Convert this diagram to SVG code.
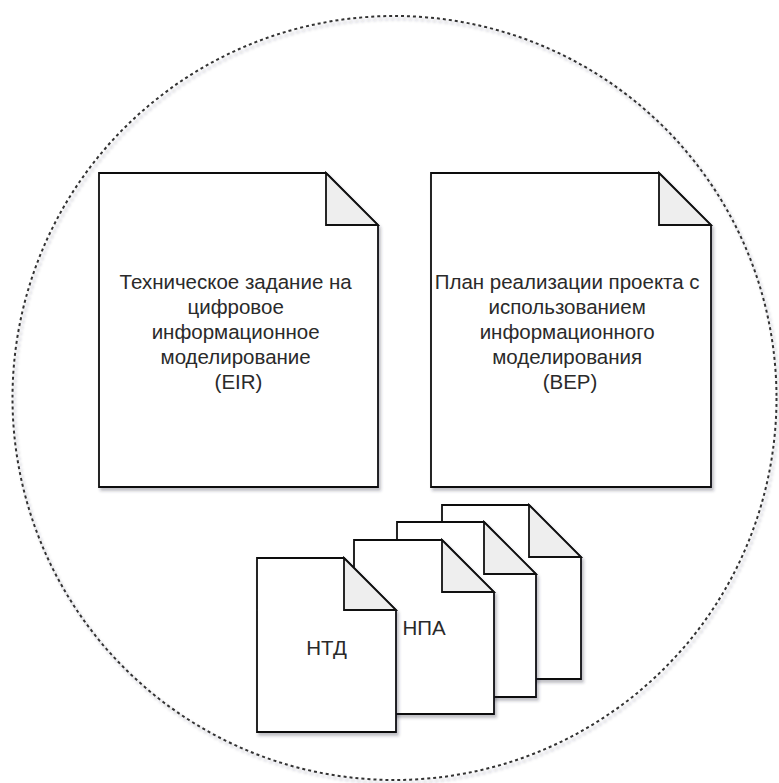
<svg xmlns="http://www.w3.org/2000/svg" width="779" height="783" viewBox="0 0 779 783">
  <style>
    .doc { fill: #ffffff; stroke: #111111; stroke-width: 1.8; stroke-linejoin: miter; }
    .fold { fill: #eeeeee; stroke: #111111; stroke-width: 1.8; }
    .lbl { font-family: "Liberation Sans", Arial, sans-serif; font-size: 20.5px; fill: #2a2a2a; text-anchor: middle; dominant-baseline: central; }
    .boundary { fill: none; stroke: #333333; stroke-width: 2; stroke-dasharray: 3 3; }
  </style>
  <defs>
    <filter id="shadow" x="-10%" y="-10%" width="130%" height="130%">
      <feDropShadow dx="2" dy="3" stdDeviation="1.8" flood-color="#303040" flood-opacity="0.3"/>
    </filter>
  </defs>
  <rect width="779" height="783" fill="#ffffff"/>

  <g id="boundary">
    <circle class="boundary" cx="394.5" cy="398" r="382" filter="url(#shadow)"/>
  </g>

  <g id="eir">
    <path class="doc" filter="url(#shadow)" d="M99,173 H326 L378,225 V487 H99 Z"/>
    <path class="fold" d="M326,173 V225 H378 Z"/>
    <text class="lbl" x="238.5">
      <tspan x="238.5" y="281">Техническое задание на</tspan>
      <tspan x="238.5" y="306">цифровое</tspan>
      <tspan x="238.5" y="331">информационное</tspan>
      <tspan x="238.5" y="356">моделирование</tspan>
      <tspan x="238.5" y="381">(EIR)</tspan>
    </text>
  </g>

  <g id="bep">
    <path class="doc" filter="url(#shadow)" d="M431,173 H659 L711,225 V487 H431 Z"/>
    <path class="fold" d="M659,173 V225 H711 Z"/>
    <text class="lbl" x="570">
      <tspan x="570" y="281">План реализации проекта с</tspan>
      <tspan x="570" y="306">использованием</tspan>
      <tspan x="570" y="331">информационного</tspan>
      <tspan x="570" y="356">моделирования</tspan>
      <tspan x="570" y="381">(BEP)</tspan>
    </text>
  </g>

  <g id="doc4">
    <path class="doc" filter="url(#shadow)" d="M442,505 H529 L581,557 V679 H442 Z"/>
    <path class="fold" d="M529,505 V557 H581 Z"/>
  </g>

  <g id="doc3">
    <path class="doc" filter="url(#shadow)" d="M397,522 H484 L536,574 V697 H397 Z"/>
    <path class="fold" d="M484,522 V574 H536 Z"/>
  </g>

  <g id="npa">
    <path class="doc" filter="url(#shadow)" d="M354,540 H442 L494,592 V714 H354 Z"/>
    <path class="fold" d="M442,540 V592 H494 Z"/>
    <text class="lbl" x="424" y="627">НПА</text>
  </g>

  <g id="ntd">
    <path class="doc" filter="url(#shadow)" d="M257,558 H344 L396,610 V732 H257 Z"/>
    <path class="fold" d="M344,558 V610 H396 Z"/>
    <text class="lbl" x="326.5" y="647">НТД</text>
  </g>

  <g id="connectors"/>
</svg>
